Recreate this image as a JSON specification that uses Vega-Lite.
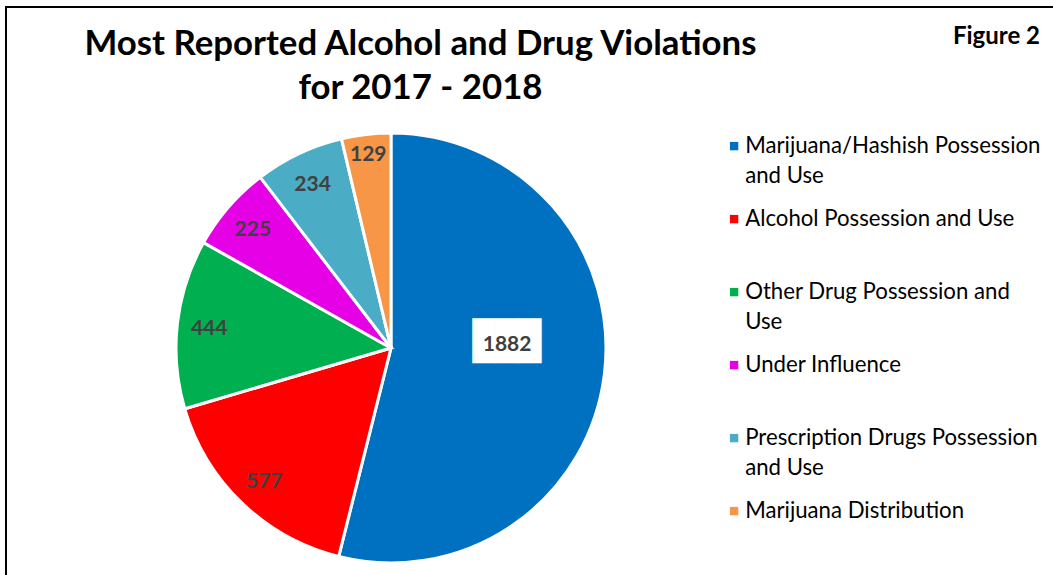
{
  "$schema": "https://vega.github.io/schema/vega-lite/v6.json",
  "width": 1053,
  "height": 575,
  "autosize": {"type": "fit", "contains": "padding"},
  "padding": {"left": 6, "top": 7, "right": -4, "bottom": -4},
  "background": "white",
  "view": {"stroke": "black", "strokeWidth": 2, "fill": "white"},
  "config": {
    "view": {"stroke": "black", "strokeWidth": 2},
    "font": "Lato",
    "style": {"guide-label": {"lineHeight": 30}}
  },
  "title": {
    "text": ["Most Reported Alcohol and Drug Violations", "for 2017 - 2018"],
    "fontSize": 34.8,
    "fontWeight": "bold",
    "color": "black",
    "font": "Lato",
    "anchor": "middle",
    "frame": "group",
    "offset": -100,
    "dx": -111,
    "lineHeight": 44
  },
  "data": {
    "values": [
      {"category": "Marijuana/Hashish Possession and Use", "value": 1882, "order": 1},
      {"category": "Alcohol Possession and Use", "value": 577, "order": 2},
      {"category": "Other Drug Possession and Use", "value": 444, "order": 3},
      {"category": "Under Influence", "value": 225, "order": 4},
      {"category": "Prescription Drugs Possession and Use", "value": 234, "order": 5},
      {"category": "Marijuana Distribution", "value": 129, "order": 6}
    ]
  },
  "layer": [
    {
      "mark": {"type": "arc", "outerRadius": 215, "stroke": "white", "strokeWidth": 3, "x": {"expr": "width*0.3663"}, "y": {"expr": "height*0.5962"}},
      "encoding": {
        "theta": {"field": "value", "type": "quantitative", "stack": true},
        "order": {"field": "order", "type": "quantitative"},
        "color": {
          "field": "category",
          "type": "nominal",
          "scale": {
            "domain": ["Marijuana/Hashish Possession and Use", "Alcohol Possession and Use", "Other Drug Possession and Use", "Under Influence", "Prescription Drugs Possession and Use", "Marijuana Distribution"],
            "range": ["#0070C0", "#FF0000", "#00B050", "#E600E6", "#4BACC6", "#F79646"]
          },
          "legend": {
            "orient": "none",
            "direction": "vertical",
            "legendX": 717,
            "legendY": 18,
            "title": "Figure 2",
            "titleFont": "Lato",
            "titleFontSize": 24,
            "titleFontWeight": "bold",
            "titleColor": "black",
            "titleAnchor": "end",
            "titlePadding": 86,
            "symbolType": "square",
            "symbolSize": 70,
            "symbolStrokeWidth": 0,
            "labelFont": "Lato",
            "labelFontSize": 22.2,
            "labelColor": "black",
            "labelLimit": 400,
            "labelOffset": 0,
            "labelBaseline": "middle",
            "rowPadding": 20,
            "gridAlign": "all",
            "padding": 0,
            "labelExpr": "datum.label == 'Marijuana/Hashish Possession and Use' ? ['Marijuana/Hashish Possession', 'and Use'] : datum.label == 'Other Drug Possession and Use' ? ['Other Drug Possession and', 'Use'] : datum.label == 'Prescription Drugs Possession and Use' ? ['Prescription Drugs Possession', 'and Use'] : datum.label"
          }
        }
      }
    },
    {
      "mark": {"type": "text", "fontSize": 21, "fontWeight": "bold", "color": "#404040", "baseline": "middle", "dy": 2, "x": {"expr": "width*0.3663"}, "y": {"expr": "height*0.5962"}},
      "encoding": {
        "theta": {"field": "value", "type": "quantitative", "stack": true},
        "order": {"field": "order", "type": "quantitative"},
        "radius": {"value": {"expr": "datum.order == 6 ? 196 : 183"}},
        "text": {"field": "value", "type": "quantitative", "condition": {"test": "datum.value > 1000", "value": ""}}
      }
    },
    {
      "mark": {"type": "text", "fontSize": 38, "font": "DejaVu Sans Mono", "color": "white", "baseline": "middle", "dy": -19, "x": {"expr": "width*0.3663"}, "y": {"expr": "height*0.5962"}},
      "encoding": {
        "theta": {"field": "value", "type": "quantitative", "stack": true},
        "order": {"field": "order", "type": "quantitative"},
        "radius": {"value": 117},
        "text": {"condition": {"test": "datum.value > 1000", "value": "███"}, "value": ""}
      }
    },
    {
      "mark": {"type": "text", "fontSize": 21, "fontWeight": "bold", "color": "#404040", "baseline": "middle", "dy": -17, "x": {"expr": "width*0.3663"}, "y": {"expr": "height*0.5962"}},
      "encoding": {
        "theta": {"field": "value", "type": "quantitative", "stack": true},
        "order": {"field": "order", "type": "quantitative"},
        "radius": {"value": 117},
        "text": {"condition": {"test": "datum.value > 1000", "field": "value", "type": "quantitative"}, "value": ""}
      }
    }
  ]
}
